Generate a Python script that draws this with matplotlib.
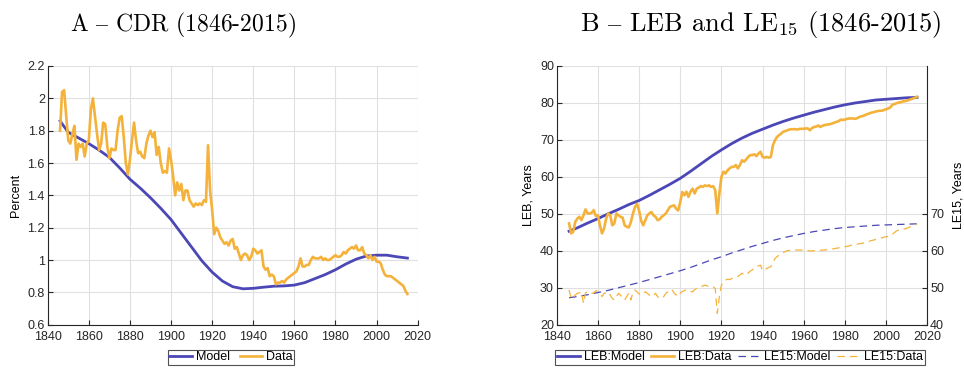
import matplotlib
matplotlib.use("Agg")
import matplotlib.pyplot as plt

plt.rcParams['font.family'] = ['Liberation Sans', 'DejaVu Sans']
plt.rcParams['mathtext.fontset'] = 'cm'

# ---------------- data ----------------
years = list(range(1846, 2016))
years_model = [1846] + list(range(1850, 2016, 5))

cdr_data = [
    1.80, 2.04, 2.05, 1.89, 1.74, 1.72, 1.78, 1.83, 1.62, 1.72,
    1.70, 1.72, 1.64, 1.72, 1.74, 1.93, 2.00, 1.89, 1.78, 1.68,
    1.72, 1.85, 1.84, 1.70, 1.63, 1.69, 1.68, 1.68, 1.80, 1.88,
    1.89, 1.76, 1.60, 1.53, 1.62, 1.74, 1.85, 1.74, 1.66, 1.67,
    1.64, 1.63, 1.72, 1.77, 1.80, 1.76, 1.79, 1.65, 1.70, 1.60,
    1.54, 1.55, 1.54, 1.69, 1.62, 1.52, 1.40, 1.48, 1.43, 1.47,
    1.37, 1.43, 1.43, 1.37, 1.35, 1.33, 1.35, 1.34, 1.35, 1.34,
    1.37, 1.36, 1.71, 1.43, 1.31, 1.16, 1.20, 1.18, 1.14, 1.12,
    1.10, 1.11, 1.09, 1.12, 1.13, 1.07, 1.08, 1.04, 1.00, 1.03,
    1.04, 1.03, 1.00, 1.02, 1.07, 1.06, 1.04, 1.05, 1.06, 0.96,
    0.94, 0.95, 0.90, 0.91, 0.90, 0.85, 0.86, 0.86, 0.87, 0.86,
    0.88, 0.89, 0.90, 0.91, 0.92, 0.93, 0.96, 1.01, 0.96, 0.96,
    0.97, 0.97, 1.00, 1.02, 1.01, 1.01, 1.01, 1.02, 1.00, 1.01,
    1.00, 1.00, 1.01, 1.02, 1.03, 1.02, 1.02, 1.03, 1.05, 1.04,
    1.06, 1.07, 1.08, 1.07, 1.09, 1.06, 1.06, 1.08, 1.04, 1.03,
    1.01, 1.03, 1.00, 1.02, 0.99, 0.99, 0.98, 0.94, 0.91, 0.90,
    0.90, 0.90, 0.89, 0.88, 0.87, 0.86, 0.85, 0.84, 0.81, 0.79,
]

cdr_model = [
    1.86, 1.79, 1.755, 1.72, 1.68, 1.635, 1.57, 1.50, 1.445, 1.385,
    1.32, 1.25, 1.165, 1.08, 0.995, 0.925, 0.87, 0.835, 0.822, 0.825,
    0.832, 0.838, 0.840, 0.845, 0.86, 0.885, 0.91, 0.94, 0.975, 1.005,
    1.025, 1.03, 1.03, 1.02, 1.012,
]

leb_data = [
    47.4, 44.7, 45.1, 47.8, 48.7, 49.2, 48.3, 49.6, 51.2, 50.1,
    50.1, 50.3, 51.0, 49.4, 49.6, 46.9, 44.7, 46.0, 48.7, 50.1,
    49.6, 46.9, 47.4, 50.1, 49.6, 49.2, 49.0, 46.9, 46.5, 46.3,
    47.7, 50.0, 51.8, 52.7, 50.9, 48.2, 46.9, 48.2, 49.6, 50.1,
    50.5, 49.6, 49.2, 48.3, 48.5, 49.2, 49.6, 50.1, 51.0, 51.9,
    52.1, 52.3, 51.4, 50.9, 53.2, 55.9, 55.0, 56.0, 54.6, 56.0,
    56.8, 55.5, 56.8, 57.1, 57.5, 57.3, 57.7, 57.5, 57.7, 57.3,
    57.5, 56.4, 50.1, 55.5, 60.0, 61.4, 60.9, 61.8, 62.3, 62.7,
    62.7, 63.2, 62.3, 63.2, 64.5, 64.1, 64.7, 65.4, 65.9, 65.9,
    66.1, 65.6, 66.3, 66.8, 65.4, 65.2, 65.4, 65.2, 65.4, 68.5,
    69.9, 70.8, 71.3, 71.7, 72.2, 72.4, 72.6, 72.8, 72.9, 72.9,
    72.9, 72.8, 73.0, 73.0, 73.0, 73.1, 73.1, 72.6, 73.2, 73.5,
    73.6, 73.9, 73.5, 73.8, 74.0, 74.1, 74.2, 74.3, 74.5, 74.7,
    74.9, 75.1, 75.5, 75.4, 75.5, 75.7, 75.8, 75.8, 75.8, 75.7,
    75.9, 76.2, 76.4, 76.5, 76.8, 77.0, 77.2, 77.4, 77.5, 77.7,
    77.8, 77.9, 77.9, 78.1, 78.3, 78.5, 78.8, 79.5, 79.7, 79.9,
    80.1, 80.2, 80.4, 80.5, 80.6, 80.8, 81.0, 81.2, 81.4, 81.7,
]

leb_model = [
    45.3, 46.2, 47.5, 48.7, 50.0, 51.2, 52.5, 53.6, 55.0, 56.5,
    58.0, 59.6, 61.5, 63.5, 65.5, 67.3, 69.0, 70.5, 71.8, 72.9,
    74.0, 75.0, 75.9, 76.7, 77.5, 78.2, 78.9, 79.5, 80.0, 80.4,
    80.8, 81.0, 81.2, 81.4, 81.5,
]

le15_data = [
    49.4, 47.1, 47.6, 48.0, 48.5, 48.6, 48.9, 45.8, 48.6, 48.9,
    48.6, 48.5, 48.6, 49.2, 48.9, 48.5, 47.6, 48.5, 48.6, 48.9,
    48.0, 47.1, 46.7, 47.6, 48.5, 48.0, 47.1, 46.7, 47.6, 48.5,
    46.7, 48.6, 49.4, 48.9, 48.3, 48.0, 48.5, 48.9, 48.5, 48.0,
    47.6, 48.0, 48.5, 47.6, 47.1, 47.4, 47.6, 48.5, 48.9, 49.4,
    49.5, 48.6, 48.0, 48.9, 48.5, 49.0, 49.2, 49.5, 49.4, 49.0,
    48.9, 49.5, 49.8, 50.0, 50.3, 50.5, 50.7, 50.5, 50.3, 50.4,
    50.3, 49.8, 43.1, 47.6, 50.7, 51.5, 52.1, 52.3, 52.2, 52.5,
    52.7, 52.9, 53.0, 53.5, 53.9, 53.6, 53.4, 54.0, 54.5, 54.8,
    55.3, 55.7, 55.9, 56.1, 54.6, 54.9, 55.2, 55.5, 55.7, 56.8,
    57.9, 58.4, 58.8, 59.2, 59.5, 59.8, 60.0, 60.1, 60.2, 60.2,
    60.2, 60.2, 60.2, 60.2, 60.2, 60.1, 60.1, 59.9, 60.0, 60.0,
    60.0, 60.1, 60.1, 60.2, 60.2, 60.3, 60.3, 60.4, 60.5, 60.6,
    60.7, 60.8, 60.9, 61.0, 61.1, 61.2, 61.3, 61.5, 61.6, 61.8,
    61.8, 61.9, 62.0, 62.1, 62.2, 62.4, 62.6, 62.8, 62.9, 63.1,
    63.2, 63.4, 63.5, 63.7, 63.8, 63.9, 64.1, 64.5, 64.9, 65.4,
    65.6, 65.7, 65.8, 65.9, 66.1, 66.3, 66.6, 66.8, 67.0, 67.3,
]

le15_model = [
    47.3, 47.6, 48.1, 48.7, 49.3, 50.0, 50.7, 51.4, 52.2, 53.0,
    53.8, 54.6, 55.5, 56.5, 57.5, 58.4, 59.4, 60.3, 61.2, 62.0,
    62.8, 63.5, 64.1, 64.7, 65.2, 65.6, 66.0, 66.3, 66.5, 66.7,
    66.9, 67.0, 67.1, 67.2, 67.3,
]

xticks = [1840, 1860, 1880, 1900, 1920, 1940, 1960, 1980, 2000, 2020]
cdr_ticks = [0.6, 0.8, 1.0, 1.2, 1.4, 1.6, 1.8, 2.0, 2.2]
cdr_ticklabels = ['0.6', '0.8', '1', '1.2', '1.4', '1.6', '1.8', '2', '2.2']
leb_ticks = [20, 30, 40, 50, 60, 70, 80, 90]
le15_ticks = [40, 50, 60, 70]

BLUE = '#4b47b6'
ORANGE = '#f5b23a'
GRID = '#e0e0e0'
SPINE = '#262626'

W, H = 964, 369
fig = plt.figure(figsize=(W / 100, H / 100), dpi=100)

def px_axes(x0, x1, y0, y1):
    return fig.add_axes([x0 / W, 1 - y1 / H, (x1 - x0) / W, (y1 - y0) / H])

def style(ax):
    ax.grid(True, color=GRID, linewidth=0.8)
    ax.set_axisbelow(True)
    for s in ['top', 'right']:
        ax.spines[s].set_visible(False)
    for s in ['left', 'bottom']:
        ax.spines[s].set_color(SPINE)
        ax.spines[s].set_linewidth(0.8)
    ax.tick_params(direction='in', length=3.5, width=0.8, color=SPINE,
                   labelsize=9, labelcolor='#262626')
    ax.tick_params(axis='x', pad=4.5)
    ax.tick_params(axis='y', pad=2)
    ax.set_xlim(1840, 2020)
    ax.set_xticks(xticks)

# ---- Panel A ----
axA = px_axes(47.7, 417.7, 66, 324.7)
style(axA)
axA.set_ylim(0.6, 2.2)
axA.set_yticks(cdr_ticks)
axA.set_yticklabels(cdr_ticklabels)
lA1, = axA.plot(years_model, cdr_model, color=BLUE, lw=2.0, label='Model')
lA2, = axA.plot(years, cdr_data, color=ORANGE, lw=1.9, label='Data')
axA.set_ylabel('Percent', fontsize=9, labelpad=4)

# ---- Panel B ----
axB = px_axes(556.7, 927.3, 66, 324.7)
style(axB)
axB.set_ylim(20, 90)
axB.set_yticks(leb_ticks)
lB1, = axB.plot(years_model, leb_model, color=BLUE, lw=2.0, label='LEB:Model')
lB2, = axB.plot(years, leb_data, color=ORANGE, lw=1.9, label='LEB:Data')
axB.set_ylabel('LEB, Years', fontsize=9, labelpad=4)

axB2 = axB.twinx()
axB2.set_ylim(40, 110)
axB2.set_yticks(le15_ticks)
for s in ['top', 'left', 'bottom']:
    axB2.spines[s].set_visible(False)
axB2.spines['right'].set_color(SPINE)
axB2.spines['right'].set_linewidth(0.8)
axB2.tick_params(direction='in', length=3.5, width=0.8, color=SPINE,
                 labelsize=9, labelcolor='#262626', pad=2)
lB3, = axB2.plot(years_model, le15_model, color=BLUE, lw=0.9,
                 dashes=(6, 4), label='LE15:Model')
lB4, = axB2.plot(years, le15_data, color=ORANGE, lw=0.9,
                 dashes=(6, 4), label='LE15:Data')
axB2.set_ylabel('LE15, Years', fontsize=9, labelpad=6)

# ---- Titles ----
title_kw = dict(ha='center', va='center', family=['cmr10', 'DejaVu Serif'])
fig.text(183 / W, 1 - 25 / H, 'A $\u2013$ CDR (1846-2015)', fontsize=17, **title_kw)
fig.text(761 / W, 1 - 25 / H, 'B $\u2013$ LEB and LE$_{15}$ (1846-2015)',
         fontsize=19, **title_kw)

# ---- Legends ----
leg_kw = dict(loc='center', frameon=True, fancybox=False, fontsize=9,
              handlelength=1.8, handletextpad=0.3,
              borderpad=0.15, borderaxespad=0)
legA = fig.legend(handles=[lA1, lA2], ncol=2, columnspacing=0.8,
                  bbox_to_anchor=(231 / W, 1 - 357.5 / H), **leg_kw)
legB = fig.legend(handles=[lB1, lB2, lB3, lB4], ncol=4, columnspacing=0.55,
                  bbox_to_anchor=(740 / W, 1 - 357.5 / H), **leg_kw)
for lg in (legA, legB):
    fr = lg.get_frame()
    fr.set_edgecolor('#262626')
    fr.set_linewidth(0.8)

fig.savefig('out.png', dpi=100)
